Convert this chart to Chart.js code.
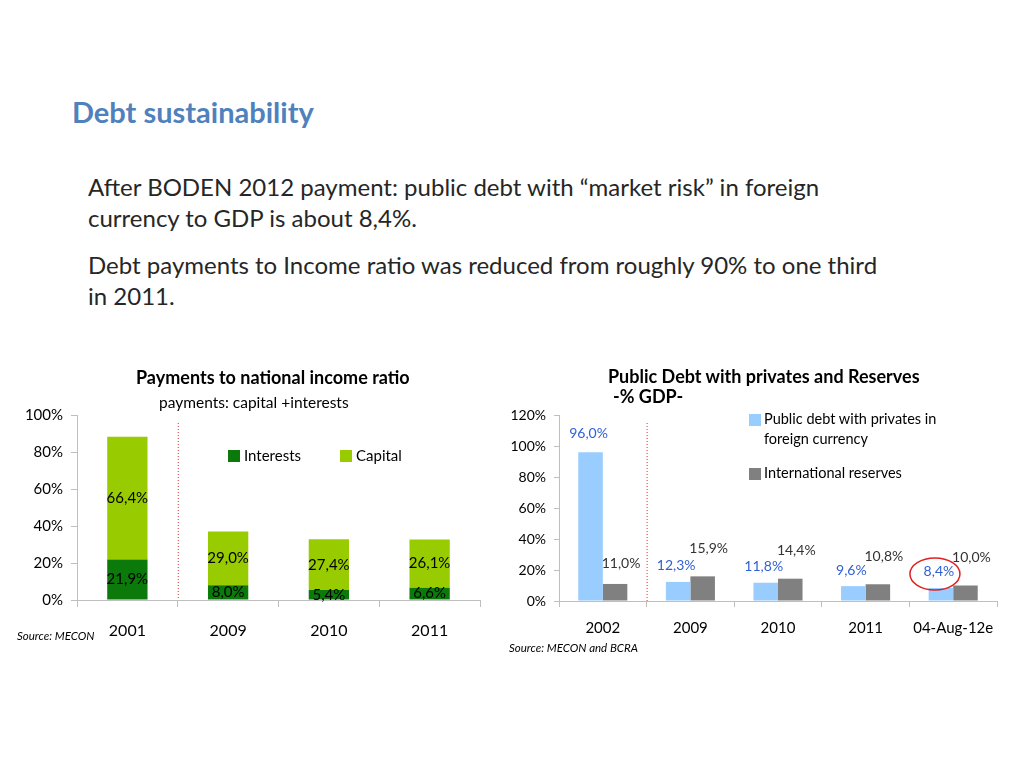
<!DOCTYPE html>
<html>
<head>
<meta charset="utf-8">
<script src="https://cdn.jsdelivr.net/npm/chart.js@4"></script>
<style>
  body { margin: 0; width: 1024px; height: 768px; background: #fff; font-family: Lato, sans-serif; position: relative; overflow: hidden; }
  .abs { position: absolute; white-space: nowrap; }
  .line { font-size: 24px; color: #262626; }
  .sq { position: absolute; width: 12px; height: 12px; }
  canvas { position: absolute; }
</style>
</head>
<body>
<div class="abs" style="left:72px;top:94px;font-size:29px;font-weight:bold;color:#4f81bd;">Debt sustainability</div>

<div class="abs line" style="left:88px;top:172px;">After BODEN 2012 payment: public debt with “market risk” in foreign</div>
<div class="abs line" style="left:88px;top:203px;">currency to GDP is about 8,4%.</div>
<div class="abs line" style="left:88px;top:250px;">Debt payments to Income ratio was reduced from roughly 90% to one third</div>
<div class="abs line" style="left:88px;top:281px;">in 2011.</div>

<!-- Gráfica izquierda -->
<canvas id="pagos" width="500" height="300" style="left:0;top:360px;"></canvas>
<div class="abs" style="left:136px;top:366px;font-size:18px;font-weight:bold;color:#000;">Payments to national income ratio</div>
<div class="abs" style="left:159px;top:393px;font-size:15.5px;color:#000;">payments: capital +interests</div>
<div class="sq" style="left:228px;top:450px;background:#0b7a0b;"></div>
<div class="abs" style="left:244px;top:446px;font-size:15px;">Interests</div>
<div class="sq" style="left:340px;top:450px;background:#99cc00;"></div>
<div class="abs" style="left:356px;top:446px;font-size:15px;">Capital</div>
<div class="abs" style="left:17px;top:629px;font-size:11.5px;font-style:italic;">Source: MECON</div>

<!-- Gráfica derecha -->
<canvas id="deuda" width="524" height="300" style="left:500px;top:360px;"></canvas>
<div class="abs" style="left:608px;top:365px;font-size:18px;font-weight:bold;color:#000;">Public Debt with privates and Reserves</div>
<div class="abs" style="left:613px;top:385px;font-size:18px;font-weight:bold;color:#000;">-% GDP-</div>
<div class="sq" style="left:749px;top:414px;background:#99ccff;"></div>
<div class="abs" style="left:764px;top:410px;font-size:14.5px;">Public debt with privates in</div>
<div class="abs" style="left:764px;top:430px;font-size:14.5px;">foreign currency</div>
<div class="sq" style="left:749px;top:468px;background:#808080;"></div>
<div class="abs" style="left:764px;top:464px;font-size:14.5px;">International reserves</div>
<div class="abs" style="left:509px;top:641px;font-size:11.5px;font-style:italic;">Source: MECON and BCRA</div>

<script>
// Datos
const leftCats = ["2001", "2009", "2010", "2011"];
const interests = [21.9, 8.0, 5.4, 6.6];
const capital = [66.4, 29.0, 27.4, 26.1];

const rightCats = ["2002", "2009", "2010", "2011", "04-Aug-12e"];
const publicDebt = [96.0, 12.3, 11.8, 9.6, 8.4];
const reserves = [11.0, 15.9, 14.4, 10.8, 10.0];

Chart.defaults.font.family = "Lato, sans-serif";
Chart.defaults.color = "#000";

const fmt = (v) => v.toFixed(1).replace(".", ",") + "%";
const axisGray = "#bfbfbf";

// línea roja punteada entre la primera y segunda categoría
function redDivider(top) {
  return {
    id: "redDivider",
    afterDatasetsDraw(chart) {
      const { ctx, scales } = chart;
      const x = (scales.x.getPixelForValue(0) + scales.x.getPixelForValue(1)) / 2;
      ctx.save();
      ctx.strokeStyle = "#e03030";
      ctx.lineWidth = 1;
      ctx.setLineDash([1, 2]);
      ctx.beginPath();
      ctx.moveTo(x + 0.5, scales.y.top + top);
      ctx.lineTo(x + 0.5, scales.y.bottom);
      ctx.stroke();
      ctx.restore();
    },
  };
}

// etiquetas dentro de las barras apiladas
const stackedLabels = {
  id: "stackedLabels",
  afterDatasetsDraw(chart) {
    const { ctx } = chart;
    ctx.save();
    ctx.font = "15px Lato, sans-serif";
    ctx.fillStyle = "#000";
    ctx.textAlign = "center";
    ctx.textBaseline = "middle";
    chart.data.datasets.forEach((ds, i) => {
      chart.getDatasetMeta(i).data.forEach((bar, j) => {
        ctx.fillText(fmt(ds.data[j]), bar.x, (bar.y + bar.base) / 2);
      });
    });
    ctx.restore();
  },
};

// etiquetas encima de las barras + elipse roja
const topLabels = {
  id: "topLabels",
  afterDatasetsDraw(chart) {
    const { ctx } = chart;
    ctx.save();
    ctx.font = "14px Lato, sans-serif";
    ctx.textAlign = "center";
    ctx.textBaseline = "middle";
    chart.getDatasetMeta(0).data.forEach((bar, j) => {
      ctx.fillStyle = "#3060d8";
      ctx.fillText(fmt(publicDebt[j]), bar.x - 2, bar.y - (j === 0 ? 19 : 16));
    });
    chart.getDatasetMeta(1).data.forEach((bar, j) => {
      ctx.fillStyle = "#333";
      ctx.fillText(fmt(reserves[j]), bar.x + 6, bar.y - (j === 0 ? 20 : 28));
    });
    const last = chart.getDatasetMeta(0).data[publicDebt.length - 1];
    ctx.strokeStyle = "#e02020";
    ctx.lineWidth = 1.5;
    ctx.beginPath();
    ctx.ellipse(last.x - 6, last.y - 14, 25, 16, 0, 0, Math.PI * 2);
    ctx.stroke();
    ctx.restore();
  },
};

new Chart(document.getElementById("pagos"), {
  type: "bar",
  data: {
    labels: leftCats,
    datasets: [
      { label: "Interests", data: interests, backgroundColor: "#0b7a0b" },
      { label: "Capital", data: capital, backgroundColor: "#99cc00" },
    ],
  },
  options: {
    responsive: false,
    animation: false,
    devicePixelRatio: 1,
    layout: { padding: { left: 0, right: 20, top: 55, bottom: 0 } },
    datasets: { bar: { barPercentage: 1, categoryPercentage: 0.4 } },
    plugins: { legend: { display: false }, tooltip: { enabled: false } },
    scales: {
      x: {
        stacked: true,
        afterFit: (s) => { s.height = 60; },
        border: { color: axisGray },
        grid: { drawOnChartArea: false, offset: true, tickLength: 7, color: axisGray },
        ticks: { font: { size: 16 }, padding: 14 },
      },
      y: {
        stacked: true,
        min: 0,
        max: 100,
        afterFit: (s) => { s.width = 77; },
        border: { color: axisGray },
        grid: { drawOnChartArea: false, tickLength: 6, color: axisGray },
        ticks: { stepSize: 20, font: { size: 15 }, padding: 8, callback: (v) => v + "%" },
      },
    },
  },
  plugins: [stackedLabels, redDivider(8)],
});

new Chart(document.getElementById("deuda"), {
  type: "bar",
  data: {
    labels: rightCats,
    datasets: [
      { label: "Public debt with privates in foreign currency", data: publicDebt, backgroundColor: "#99ccff" },
      { label: "International reserves", data: reserves, backgroundColor: "#808080" },
    ],
  },
  options: {
    responsive: false,
    animation: false,
    devicePixelRatio: 1,
    layout: { padding: { left: 0, right: 27, top: 55, bottom: 0 } },
    datasets: { bar: { barPercentage: 1, categoryPercentage: 0.56 } },
    plugins: { legend: { display: false }, tooltip: { enabled: false } },
    scales: {
      x: {
        afterFit: (s) => { s.height = 59; },
        border: { color: axisGray },
        grid: { drawOnChartArea: false, offset: true, tickLength: 6, color: axisGray },
        ticks: { font: { size: 15 }, padding: 12 },
      },
      y: {
        min: 0,
        max: 120,
        afterFit: (s) => { s.width = 59; },
        border: { color: axisGray },
        grid: { drawOnChartArea: false, tickLength: 5, color: axisGray },
        ticks: { stepSize: 20, font: { size: 14 }, padding: 8, callback: (v) => v + "%" },
      },
    },
  },
  plugins: [topLabels, redDivider(8)],
});
</script>
</body>
</html>
